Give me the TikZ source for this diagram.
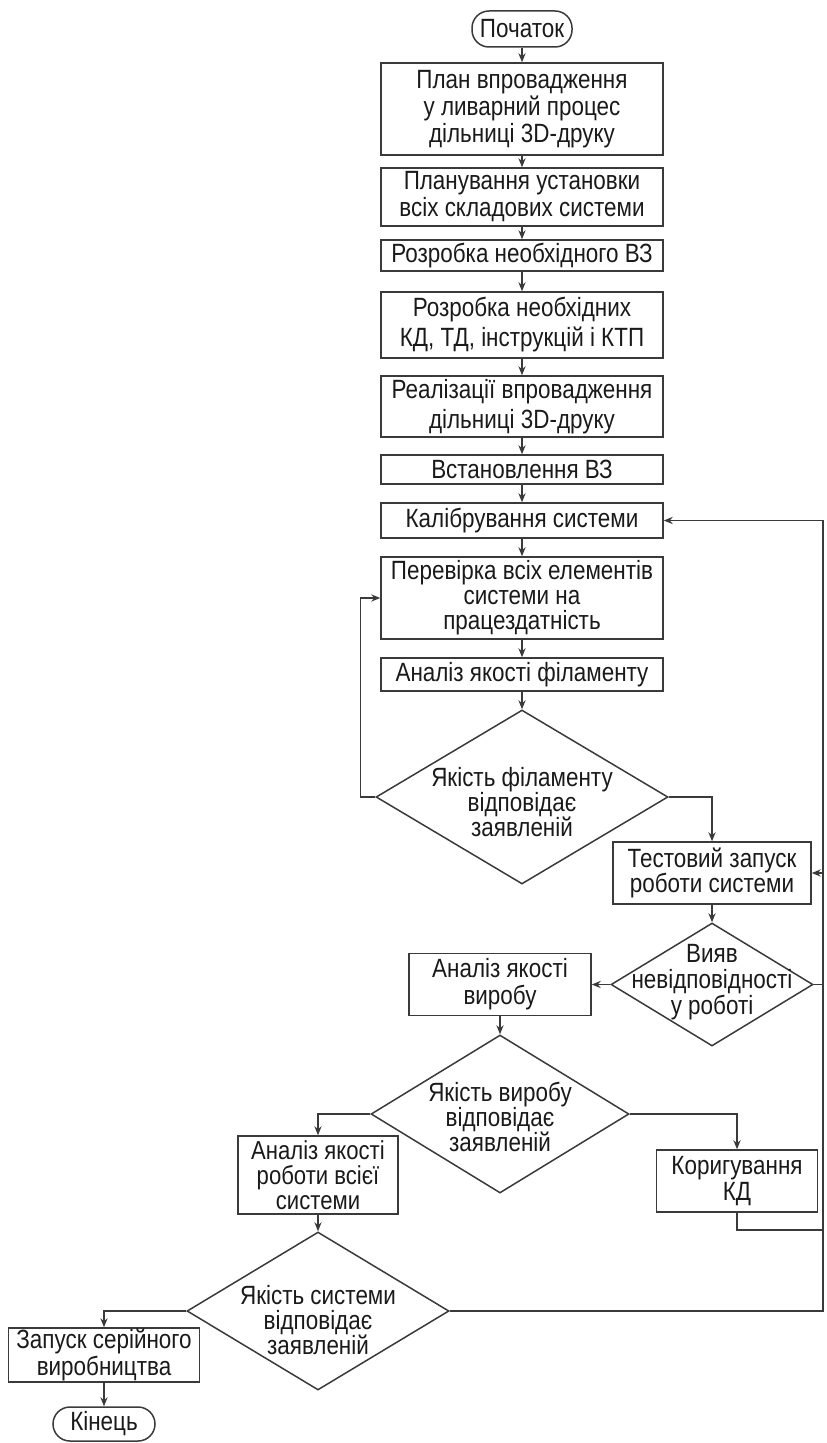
\documentclass[tikz,border=0pt]{standalone}
\usepackage{fontspec}
\setmainfont{Liberation Sans}[FakeStretch=0.85]
\usetikzlibrary{arrows.meta,shapes.geometric}
\definecolor{lc}{HTML}{3A3A3A}
\definecolor{tc}{HTML}{1A1A1A}
\begin{document}
\begin{tikzpicture}[x=0.5pt,y=-0.5pt,
  every node/.style={font=\fontsize{13.2pt}{13pt}\selectfont, text=tc},
  proc/.style={draw=lc, line width=0.75pt, rectangle, inner sep=0pt, align=center, minimum width=141pt},
  term/.style={draw=lc, line width=0.75pt, rectangle, rounded corners=8.5pt, inner sep=0pt},
  dec/.style={draw=lc, line width=0.75pt, diamond, inner sep=0pt},
  txt/.style={align=center, inner sep=0pt},
  arr/.style={draw=lc, line width=0.75pt, -{Stealth[length=4.5pt,width=3.6pt]}},
  conn/.style={draw=lc, line width=0.75pt}
]
\useasboundingbox (0,0) rectangle (826,1443);

\node[term, minimum width=50pt, minimum height=18pt] (start) at (522,29) {Початок};
\node[proc, minimum height=46pt, font=\fontsize{13.2pt}{13.5pt}\selectfont] (b1) at (522,109) {План впровадження\\у ливарний процес\\дільниці 3D-друку};
\node[proc, minimum height=29pt, font=\fontsize{13.2pt}{13.5pt}\selectfont] (b2) at (522,197) {Планування установки\\всіх складових системи};
\node[proc, minimum height=15.5pt] (b3) at (522,255.5) {Розробка необхідного ВЗ};
\node[proc, minimum height=33pt, font=\fontsize{13.2pt}{15pt}\selectfont] (b4) at (522,325) {Розробка необхідних\\КД, ТД, інструкцій і КТП};
\node[proc, minimum height=30.5pt, font=\fontsize{13.2pt}{15pt}\selectfont] (b5) at (522,406.5) {Реалізації впровадження\\дільниці 3D-друку};
\node[proc, minimum height=14.5pt] (b6) at (522,469.5) {Встановлення ВЗ};
\node[proc, minimum height=17.5pt] (b7) at (522,520.5) {Калібрування системи};
\node[proc, minimum height=41pt, font=\fontsize{13.2pt}{12.5pt}\selectfont] (b8) at (522,598) {Перевірка всіх елементів\\системи на\\працездатність};
\node[proc, minimum height=16.5pt] (b9) at (522,674.5) {Аналіз якості філаменту};

\node[dec, minimum width=146pt, minimum height=87pt] (d1) at (522,797) {};
\node[txt, font=\fontsize{13.2pt}{12.5pt}\selectfont] (d1t) at (522,802) {Якість філаменту\\відповідає\\заявленій};

\node[proc, minimum width=99pt, minimum height=31pt, font=\fontsize{13.2pt}{12.5pt}\selectfont] (b10) at (712,873) {Тестовий запуск\\роботи системи};

\node[dec, minimum width=101pt, minimum height=61.5pt] (d2) at (712,984.5) {};
\node[txt] (d2t) at (712,982) {Вияв\\невідповідності\\у роботі};

\node[proc, minimum width=91pt, minimum height=31pt, font=\fontsize{13.2pt}{13.5pt}\selectfont] (b11) at (500,984.5) {Аналіз якості\\виробу};

\node[dec, minimum width=129pt, minimum height=79pt] (d3) at (500,1114) {};
\node[txt, font=\fontsize{13.2pt}{12.5pt}\selectfont] (d3t) at (500,1117) {Якість виробу\\відповідає\\заявленій};

\node[proc, minimum width=80pt, minimum height=39pt, font=\fontsize{13pt}{12.4pt}\selectfont] (b12) at (318,1175) {Аналіз якості\\роботи всієї\\системи};
\node[proc, minimum width=80.5pt, minimum height=31pt] (b13) at (737,1181) {Коригування\\КД};

\node[dec, minimum width=131pt, minimum height=79pt] (d4) at (318,1311) {};
\node[txt, font=\fontsize{13.2pt}{12.5pt}\selectfont] (d4t) at (318,1320) {Якість системи\\відповідає\\заявленій};

\node[proc, minimum width=95.5pt, minimum height=27pt, font=\fontsize{13.2pt}{13.5pt}\selectfont] (b14) at (104,1355) {Запуск серійного\\виробництва};
\node[term, minimum width=51pt, minimum height=17pt] (end) at (104,1424) {Кінець};

% main column
\draw[arr] (start) -- (b1);
\draw[arr] (b1) -- (b2);
\draw[arr] (b2) -- (b3);
\draw[arr] (b3) -- (b4);
\draw[arr] (b4) -- (b5);
\draw[arr] (b5) -- (b6);
\draw[arr] (b6) -- (b7);
\draw[arr] (b7) -- (b8);
\draw[arr] (b8) -- (b9);
\draw[arr] (b9) -- (d1.north);

% decisions and branches
\draw[arr] (d1.west) -- ++(-15,0) |- (b8.west);
\draw[arr] (d1.east) -| (b10.north);
\draw[arr] (b10) -- (d2.north);
\draw[arr] (d2.west) -- (b11.east);
\draw[arr] (b11) -- (d3.north);
\draw[arr] (d3.west) -| (b12.north);
\draw[arr] (d3.east) -| (b13.north);
\draw[arr] (b12) -- (d4.north);
\draw[arr] (d4.west) -| (b14.north);
\draw[arr] (b14) -- (end);

% right return lines
\draw[arr] (d4.east) -- (823,1311) |- (b7.east);
\draw[conn] (d2.east) -- (823,984.5);
\draw[arr] (b13.south) -- ++(0,17) -| (823,873) -- (b10.east);
\end{tikzpicture}
\end{document}
